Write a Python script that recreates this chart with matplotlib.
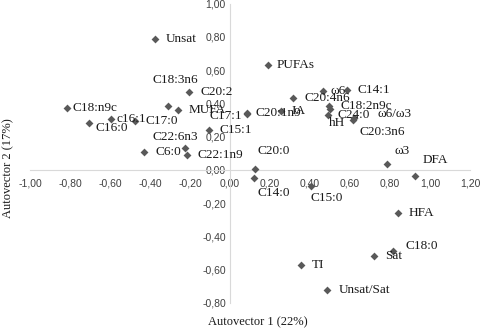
import matplotlib
matplotlib.use("Agg")
import matplotlib.pyplot as plt
from matplotlib.ticker import FuncFormatter

# PCA loadings
labels = ["Unsat", "PUFAs", "C18:3n6", "C20:2", "MUFA", "C18:n9c", "c16:1",
          "C16:0", "C17:0", "C15:1", "C22:6n3", "C22:1n9", "C6:0", "C17:1",
          "C20:1n9", "IA", "C20:4n6", "\u03c96", "C14:1", "C18:2n9c", "hH",
          "C24:0", "\u03c96/\u03c93", "C20:3n6", "\u03c93", "DFA", "C20:0",
          "C14:0", "C15:0", "HFA", "C18:0", "Sat", "TI", "Unsat/Sat"]
pc1 = [-0.375, 0.19, -0.31, -0.203, -0.26, -0.817, -0.597,
       -0.705, -0.475, -0.105, -0.223, -0.215, -0.43, 0.085,
       0.087, 0.253, 0.317, 0.463, 0.583, 0.497, 0.50,
       0.49, 0.62, 0.617, 0.783, 0.925, 0.125,
       0.12, 0.403, 0.84, 0.817, 0.72, 0.355, 0.487]
pc2 = [0.787, 0.63, 0.386, 0.467, 0.36, 0.37, 0.307,
       0.284, 0.296, 0.24, 0.134, 0.088, 0.11, 0.335,
       0.34, 0.356, 0.434, 0.476, 0.48, 0.385, 0.365,
       0.33, 0.31, 0.30, 0.034, -0.036, 0.006,
       -0.05, -0.094, -0.26, -0.49, -0.516, -0.569, -0.72]

# label offsets from their point, in pixels (dx, dy, ha); default is right
place = {
    "C18:3n6": (7, 26, "center"), "C22:6n3": (-10, 11, "center"),
    "C16:0": (6, -5, "left"), "C17:1": (-5, -2, "right"),
    "\u03c96/\u03c93": (24, 4, "left"), "C20:3n6": (6, -12, "left"),
    "hH": (7, -14, "center"), "\u03c93": (8, 13, "left"),
    "DFA": (8, 16, "left"), "C20:0": (2, 18, "left"),
    "C14:0": (4, -15, "left"), "C15:0": (0, -12, "left"),
    "C18:0": (12, 5, "left"), "C18:n9c": (6, 0, "left"),
    "c16:1": (6, 0, "left"), "\u03c96": (8, 0, "left"),
    "PUFAs": (9, 0, "left"), "C24:0": (9, 0, "left"),
    "C20:1n9": (8, 0, "left"),
}

plt.rcParams["font.family"] = ["Liberation Serif", "DejaVu Serif"]

fig = plt.figure(figsize=(4.82, 3.29), dpi=100)
ax = fig.add_axes([30 / 482, 1 - 303 / 329, 440 / 482, 299.5 / 329])

ax.scatter(pc1, pc2, marker="D", s=16, color="#595959", zorder=3, linewidths=0)

for lab, x, y in zip(labels, pc1, pc2):
    dx, dy, ha = place.get(lab, (11, 0, "left"))
    ax.annotate(lab, (x, y), xytext=(dx, dy), textcoords="offset pixels",
                ha=ha, va="center", fontsize=9.5, color="#1a1a1a", zorder=4)

ax.set_xlim(-1.0, 1.2)
ax.set_ylim(-0.8, 1.0)
ax.set_xticks([-1.0, -0.8, -0.6, -0.4, -0.2, 0.0, 0.2, 0.4, 0.6, 0.8, 1.0, 1.2])
ax.set_yticks([-0.8, -0.6, -0.4, -0.2, 0.0, 0.2, 0.4, 0.6, 0.8, 1.0])

comma = FuncFormatter(lambda v, pos: f"{v:.2f}".replace(".", ","))
ax.xaxis.set_major_formatter(comma)
ax.yaxis.set_major_formatter(comma)

for side in ["top", "right"]:
    ax.spines[side].set_visible(False)
ax.spines["left"].set_position(("data", 0))
ax.spines["bottom"].set_position(("data", 0))
for side in ["left", "bottom"]:
    ax.spines[side].set_color("#d9d9d9")
    ax.spines[side].set_linewidth(0.8)

ax.tick_params(axis="x", length=0, pad=6, labelsize=7.5, labelcolor="#404040")
ax.tick_params(axis="y", length=0, pad=3, labelsize=7.5, labelcolor="#404040")
for t in ax.get_xticklabels() + ax.get_yticklabels():
    t.set_family(["Liberation Sans", "DejaVu Sans"])
ax.patch.set_alpha(0)

fig.text(258 / 482, 1 - 322 / 329, "Autovector 1 (22%)", ha="center", va="center",
         fontsize=9, color="#1a1a1a")
fig.text(8 / 482, 1 - 168 / 329, "Autovector 2 (17%)", ha="center", va="center",
         rotation=90, fontsize=9, color="#1a1a1a")

fig.savefig("out.png", dpi=100)
